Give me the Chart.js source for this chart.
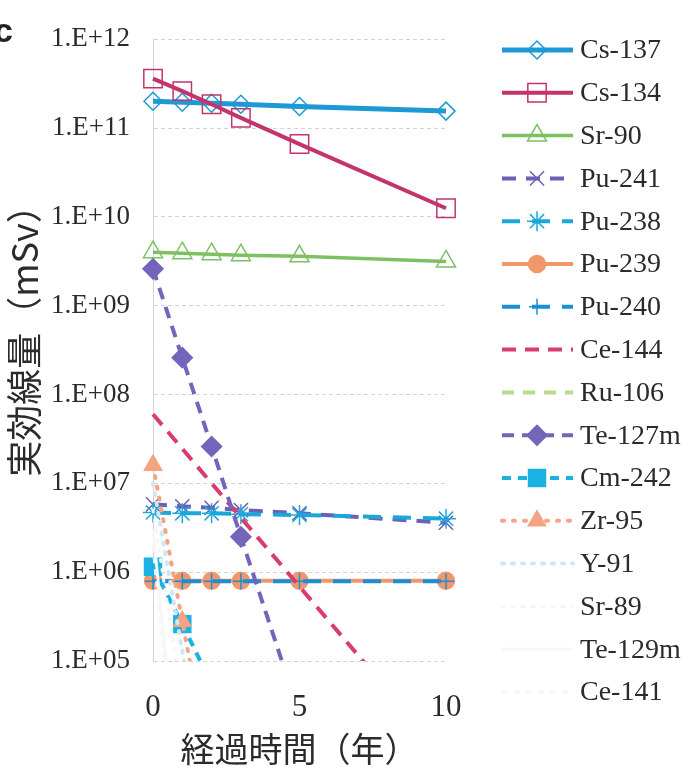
<!DOCTYPE html>
<html>
<head>
<meta charset="utf-8">
<script src="https://cdn.jsdelivr.net/npm/chart.js@4/dist/chart.umd.min.js"></script>
<style>
  html, body { margin: 0; padding: 0; background: #fff; }
</style>
</head>
<body>
<canvas id="dose-chart" width="688" height="773"></canvas>
<script>
// elapsed years and decade ticks
const years = [0, 1, 2, 3, 5, 10];
const yTicks = [1e5, 1e6, 1e7, 1e8, 1e9, 1e10, 1e11, 1e12];

const nuclides = ['Cs-137', 'Cs-134', 'Sr-90', 'Pu-241', 'Pu-238', 'Pu-239', 'Pu-240', 'Ce-144',
    'Ru-106', 'Te-127m', 'Cm-242', 'Zr-95', 'Y-91', 'Sr-89', 'Te-129m', 'Ce-141'];

// effective dose (mSv)
const cs137 = [2.0e11, 1.95e11, 1.9e11, 1.85e11, 1.75e11, 1.55e11];
const cs134 = [3.6e11, 2.6e11, 1.85e11, 1.3e11, 6.6e10, 1.25e10];
const sr90 = [4.0e9, 3.9e9, 3.8e9, 3.7e9, 3.6e9, 3.15e9];
const pu241 = [5.8e6, 5.5e6, 5.3e6, 5.0e6, 4.6e6, 3.6e6];
const pu238 = [4.7e6, 4.6e6, 4.6e6, 4.5e6, 4.4e6, 4.0e6];
const pu239 = [8.0e5, 8.0e5, 8.0e5, 8.0e5, 8.0e5, 8.0e5];
const pu240 = [7.9e5, 7.9e5, 7.9e5, 7.9e5, 7.9e5, 7.9e5];
const ce144 = [6.0e7, 2.45e7, 1.0e7, 4.1e6, 6.9e5, 8.0e3];
const ru106 = [9.0e4, 4.5e4, 2.3e4, 1.2e4, 2.9e3, 1.0e2];
const te127m = [2.6e9, 2.6e8, 2.6e7, 2.5e6, 2.5e4, 0.25];
const cm242 = [1.15e6, 2.6e5, 5.5e4, 1.2e4, 5.4e2, 0.25];
const zr95 = [1.6e7, 2.8e5, 5.0e3, 90, 0.03, 1e-10];
const y91 = [1.0e7, 1.3e5, 1.8e3, 24, 4e-3, 1e-12];
const sr89 = [5.0e6, 3.4e4, 2.3e2, 1.6, 7e-5, 1e-15];
const te129m = [3.0e6, 1.5e3, 0.8, 4e-4, 1e-10, 1e-20];
const ce141 = [2.0e6, 8.0e2, 0.3, 1e-4, 2e-11, 1e-20];

const series = [cs137, cs134, sr90, pu241, pu238, pu239, pu240, ce144,
    ru106, te127m, cm242, zr95, y91, sr89, te129m, ce141];

const styles = [
    {color: '#1d9ad6', width: 5, dash: [], marker: 'rectRot', r: 9, fill: false},
    {color: '#c2356c', width: 4, dash: [], marker: 'rect', r: 13, fill: false},
    {color: '#7dc062', width: 3.5, dash: [], marker: 'triangle', r: 11, fill: false},
    {color: '#6a60b4', width: 4, dash: [14, 10], marker: 'crossRot', r: 10, fill: false},
    {color: '#1ba7da', width: 4, dash: [18, 12], marker: 'star', r: 10, fill: false},
    {color: '#f2976c', width: 4, dash: [], marker: 'circle', r: 8.5, fill: true},
    {color: '#1a90d2', width: 4, dash: [18, 12], marker: 'cross', r: 8, fill: false},
    {color: '#d83c70', width: 4, dash: [14, 9], marker: false, r: 0, fill: false},
    {color: '#b9dc8c', width: 4, dash: [12, 9], marker: false, r: 0, fill: false},
    {color: '#7464ba', width: 4, dash: [12, 8], marker: 'rectRot', r: 10, fill: true},
    {color: '#1ab2e2', width: 4, dash: [9, 7], marker: 'rect', r: 12, fill: true},
    {color: '#f4a383', width: 4, dash: [2, 9], marker: 'triangle', r: 10, fill: true},
    {color: '#cfe6f3', width: 4, dash: [2, 8], marker: false, r: 0, fill: false},
    {color: '#f5f5f5', width: 3, dash: [2, 8], marker: false, r: 0, fill: false},
    {color: '#f7f7f7', width: 3, dash: [], marker: false, r: 0, fill: false},
    {color: '#f6f6f6', width: 3, dash: [6, 6], marker: false, r: 0, fill: false}
];

const serif = '"Liberation Serif", "DejaVu Serif", serif';
const gothic = '"Noto Sans CJK JP", "Noto Sans", sans-serif';

const datasets = nuclides.map((name, i) => {
    const s = styles[i];
    return {
        label: name,
        data: years.map((x, k) => ({x: x, y: series[i][k]})),
        borderColor: s.color,
        borderWidth: s.width,
        borderDash: s.dash,
        borderCapStyle: s.dash.length && s.dash[0] < 4 ? 'round' : 'butt',
        pointStyle: s.marker,
        pointRadius: s.r,
        pointBorderWidth: 1.5,
        pointBorderColor: s.color,
        pointBackgroundColor: s.fill ? s.color : 'rgba(0,0,0,0)',
        tension: 0,
        // let end markers spill over the sides, keep the bottom cut
        clip: {left: 16, right: 16, top: 16, bottom: 0},
        order: -i
    };
});

// legend drawn on the right, line sample with marker in the middle
const sideLegend = {
    id: 'sideLegend',
    afterDraw(chart) {
        const ctx = chart.ctx;
        ctx.save();
        chart.data.datasets.forEach((ds, i) => {
            const y = 50 + i * 42.8;
            ctx.beginPath();
            ctx.setLineDash(ds.borderDash);
            ctx.lineCap = ds.borderCapStyle;
            ctx.lineWidth = ds.borderWidth;
            ctx.strokeStyle = ds.borderColor;
            ctx.moveTo(502, y);
            ctx.lineTo(573, y);
            ctx.stroke();
            ctx.setLineDash([]);
            if (ds.pointStyle) {
                ctx.fillStyle = ds.pointBackgroundColor;
                ctx.strokeStyle = ds.pointBorderColor;
                ctx.lineWidth = ds.pointBorderWidth;
                Chart.helpers.drawPoint(ctx, {
                    pointStyle: ds.pointStyle,
                    radius: ds.pointRadius,
                    rotation: 0,
                    borderWidth: ds.pointBorderWidth
                }, 537, y);
            }
            ctx.fillStyle = '#2b2b2b';
            ctx.font = '28px ' + serif;
            ctx.textAlign = 'left';
            ctx.textBaseline = 'middle';
            ctx.fillText(ds.label, 580, y + 1);
        });
        // panel letter, cut at the left edge
        ctx.fillStyle = '#222';
        ctx.font = 'bold 34px "Liberation Sans", sans-serif';
        ctx.textBaseline = 'alphabetic';
        ctx.fillText('c', -6, 42);
        ctx.restore();
    }
};

new Chart(document.getElementById('dose-chart'), {
    type: 'line',
    data: {datasets: datasets},
    plugins: [sideLegend],
    options: {
        responsive: false,
        animation: false,
        layout: {
            padding: {top: 31, right: 242, bottom: 0, left: 0}
        },
        plugins: {
            legend: {display: false},
            tooltip: {enabled: false}
        },
        scales: {
            x: {
                type: 'linear',
                min: 0,
                max: 10,
                grid: {display: false},
                border: {display: false},
                ticks: {
                    stepSize: 5,
                    padding: 20,
                    color: '#2b2b2b',
                    font: {family: serif, size: 31}
                },
                title: {
                    display: true,
                    text: '経過時間（年）',
                    color: '#2b2b2b',
                    padding: {top: 0, bottom: 4},
                    font: {family: gothic, size: 34}
                },
                afterFit(scale) {
                    scale.height = 112;
                }
            },
            y: {
                type: 'logarithmic',
                min: 1e5,
                max: 1e12,
                grid: {
                    color: '#d4d4d4',
                    lineWidth: 1,
                    drawTicks: false
                },
                border: {
                    display: true,
                    color: '#d4d4d4',
                    width: 1,
                    dash: [4, 3]
                },
                afterBuildTicks(scale) {
                    scale.ticks = yTicks.map(v => ({value: v}));
                },
                ticks: {
                    padding: 23,
                    color: '#2b2b2b',
                    font: {family: serif, size: 27},
                    callback: (v) => '1.E+' + String(Math.round(Math.log10(v))).padStart(2, '0')
                },
                title: {
                    display: true,
                    text: '\u3000実効線量（mSv）',
                    color: '#2b2b2b',
                    padding: {top: 3, bottom: 0},
                    font: {family: gothic, size: 36}
                },
                afterFit(scale) {
                    scale.width = 153;
                }
            }
        }
    }
});
</script>
</body>
</html>
